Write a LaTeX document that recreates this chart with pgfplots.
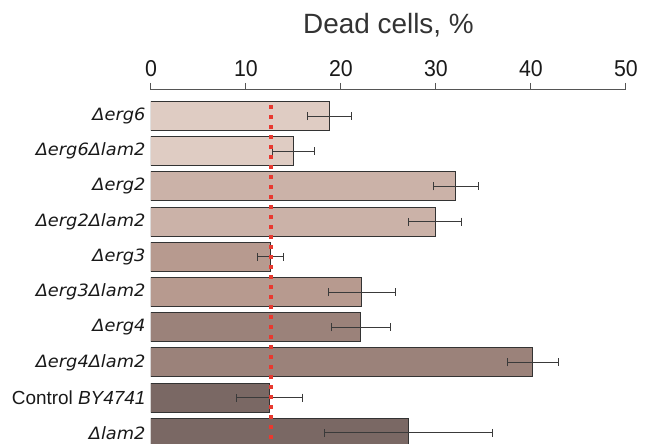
\documentclass[border=0pt]{standalone}
\usepackage{pgfplots}
\pgfplotsset{compat=1.18}
\usepackage{fontspec}
\setmainfont{Liberation Sans}
\newfontfamily\labfont[FakeStretch=1.05]{DejaVu Sans}
\newfontfamily\tickfont[FakeStretch=0.93]{Liberation Sans}
\definecolor{cA}{HTML}{DFCCC3}
\definecolor{cB}{HTML}{CBB2A8}
\definecolor{cC}{HTML}{B79A8F}
\definecolor{cD}{HTML}{9B827A}
\definecolor{cE}{HTML}{7A6864}
\definecolor{barline}{HTML}{333333}
\definecolor{errc}{HTML}{3A3A3A}
\definecolor{axisgray}{HTML}{555555}
\definecolor{redc}{HTML}{E8392F}
\pgfplotsset{mybar/.style={xbar, bar shift=0pt, fill=#1, draw=barline, line width=1bp,
    error bars/x dir=both, error bars/x explicit,
    error bars/error bar style={line width=1bp, draw=errc},
    error bars/error mark options={line width=1bp, mark size=4bp, draw=errc, rotate=90}}}
\begin{document}
\begin{tikzpicture}
\useasboundingbox (-151bp,-354bp) rectangle (498bp,90bp);
\begin{axis}[name=ax, at={(0,0)}, anchor=north west, scale only axis,
  width=475bp, height=354bp,
  xmin=0, xmax=50, ymin=-0.318, ymax=9.739,
  axis x line=top, axis y line=left,
  x axis line style={-, draw=axisgray, line width=1bp},
  y axis line style={draw=none},
  xtick={0,10,...,50}, tick align=outside, major tick length=7bp,
  xtick style={draw=axisgray, line width=1bp},
  /pgf/number format/assume math mode=true,
  ytick={0,...,9}, ytick style={draw=none},
  yticklabels={{\labfont\itshape Δlam2},
    {\fontsize{19}{19}\selectfont Control \textit{BY4741}},
    {\labfont\itshape Δerg4Δlam2},
    {\labfont\itshape Δerg4},
    {\labfont\itshape Δerg3Δlam2},
    {\labfont\itshape Δerg3},
    {\labfont\itshape Δerg2Δlam2},
    {\labfont\itshape Δerg2},
    {\labfont\itshape Δerg6Δlam2},
    {\labfont\itshape Δerg6}},
  xticklabel style={font=\tickfont\fontsize{23}{23}\selectfont, text=black!90, yshift=3bp},
  yticklabel style={font=\fontsize{17}{17}\selectfont, text=black!90, xshift=5bp},
  bar width=0.824,
]
\addplot[mybar=cA] coordinates {(18.8,9) +- (2.3,0) (15.0,8) +- (2.2,0)};
\addplot[mybar=cB] coordinates {(32.1,7) +- (2.4,0) (29.9,6) +- (2.75,0)};
\addplot[mybar=cC] coordinates {(12.56,5) +- (1.4,0) (22.2,4) +- (3.5,0)};
\addplot[mybar=cD] coordinates {(22.1,3) +- (3.1,0) (40.2,2) +- (2.7,0)};
\addplot[mybar=cE] coordinates {(12.45,1) +- (3.5,0) (27.1,0) +- (8.8,0)};
\addplot[draw=redc, line width=3.5bp, dash pattern=on 3.5bp off 6.5bp, forget plot] coordinates {(12.63,9.31) (12.63,-0.5)};
\end{axis}
\node[anchor=base, font=\fontsize{28}{28}\selectfont, text=black!80] at ([yshift=56.5bp]ax.north) {Dead cells, \%};
\end{tikzpicture}
\end{document}
